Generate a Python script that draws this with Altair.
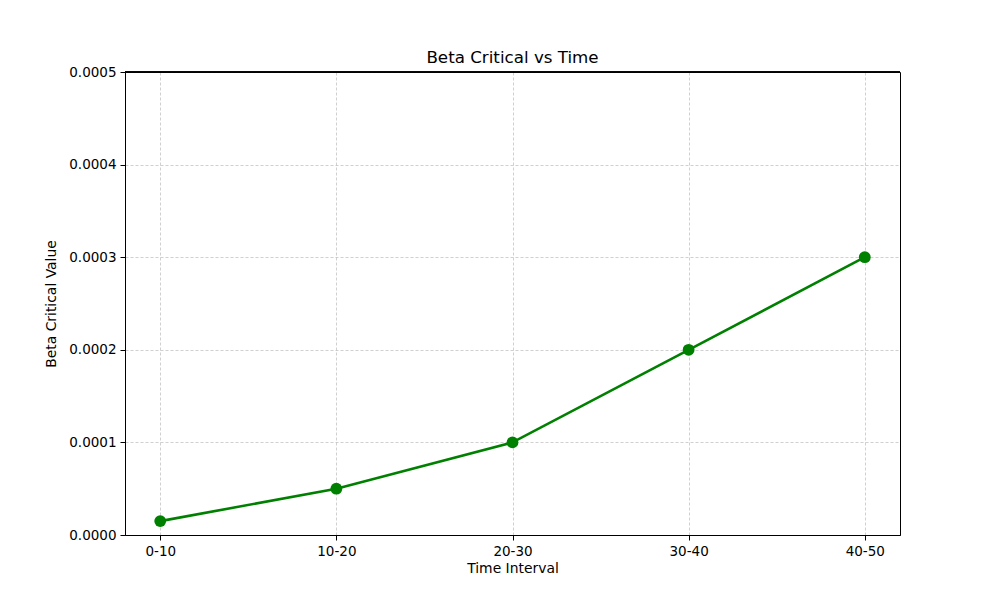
import altair as alt
import pandas as pd

intervals = ["0-10", "10-20", "20-30", "30-40", "40-50"]
beta_values = [0.000015, 0.00005, 0.0001, 0.0002, 0.0003]

df = pd.DataFrame({"interval": intervals, "beta": beta_values})

FONT = "DejaVu Sans"

x = alt.X("interval:N", sort=intervals, title="Time Interval",
          scale=alt.Scale(type="point", padding=0.2),
          axis=alt.Axis(labelAngle=0, grid=True, gridDash=[3, 2], gridColor="#b0b0b0", gridWidth=0.6,
                        tickSize=5, tickColor="black", domainColor="black",
                        labelFontSize=13.5, titleFontSize=13.9, labelColor="black", titleColor="black",
                        labelFont=FONT, titleFont=FONT, titleFontWeight="normal", labelPadding=4, titlePadding=4))
y = alt.Y("beta:Q", title="Beta Critical Value",
          scale=alt.Scale(domain=[0, 0.0005], nice=False),
          axis=alt.Axis(format=".4f", values=[0, 0.0001, 0.0002, 0.0003, 0.0004, 0.0005],
                        gridDash=[3, 2], gridColor="#b0b0b0", gridWidth=0.6,
                        tickSize=5, tickColor="black", domainColor="black",
                        labelFontSize=13.5, titleFontSize=13.9, labelColor="black", titleColor="black",
                        labelFont=FONT, titleFont=FONT, titleFontWeight="normal", labelPadding=4, titlePadding=10))

line = alt.Chart(df).mark_line(color="green", strokeWidth=2.6).encode(x=x, y=y)
pts = alt.Chart(df).mark_point(color="green", filled=True, opacity=1, size=140).encode(x=x, y=y)
frame_top = alt.Chart(df).mark_rule(color="black", strokeWidth=1).encode(
    x=alt.value(0), x2=alt.value(775), y=alt.value(0))

chart = alt.layer(line, pts, frame_top).properties(
    width=775, height=463,
    title=alt.TitleParams("Beta Critical vs Time", fontSize=16.7, font=FONT, fontWeight="normal", color="black", offset=-2),
    autosize=alt.AutoSizeParams(type="none"),
    padding={"left": 117, "top": 64, "right": 92, "bottom": 57},
).configure_view(stroke="black", strokeWidth=1)

chart.save("out.html", embed_options={"renderer": "svg", "actions": False})
